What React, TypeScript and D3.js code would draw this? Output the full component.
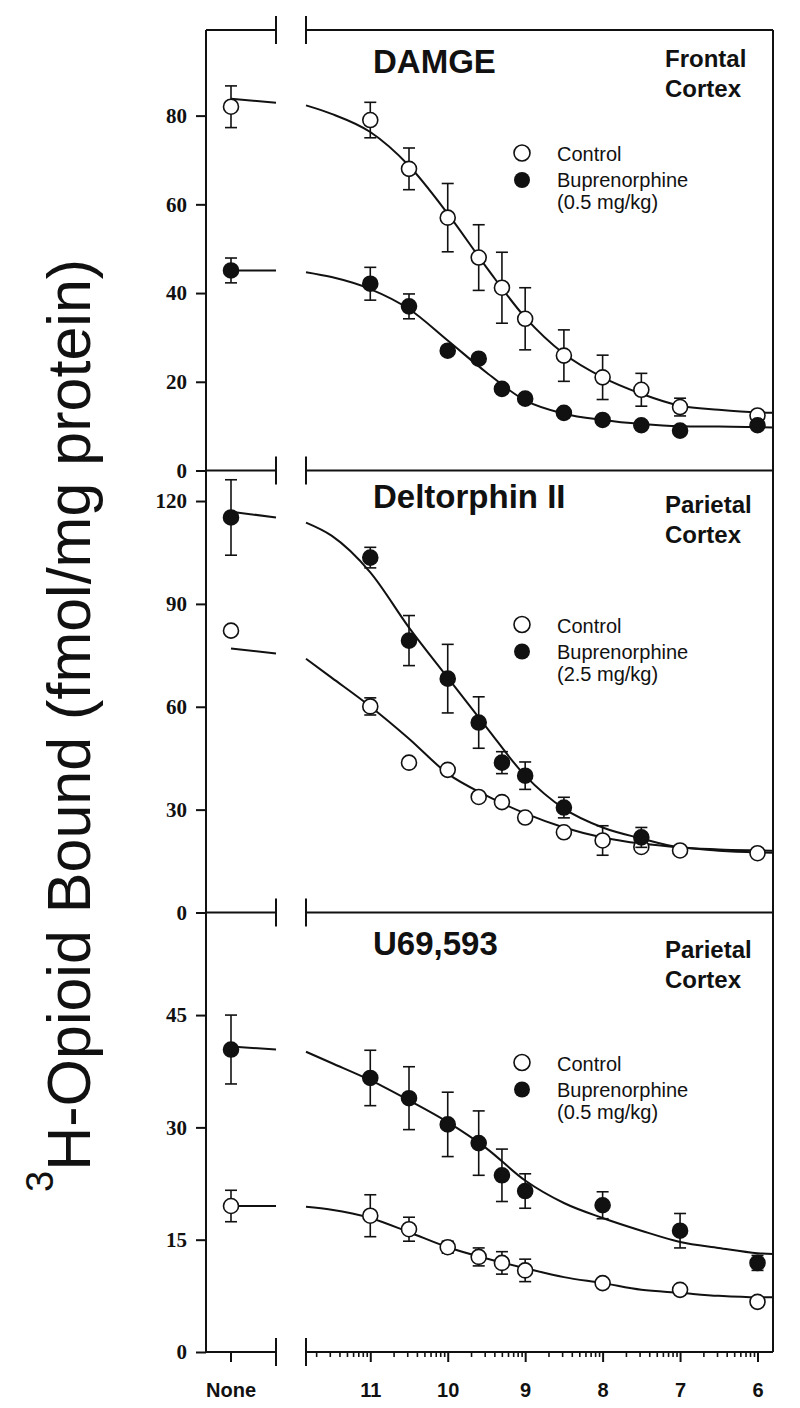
import React, { useEffect, useRef } from 'react';
import * as d3 from 'd3';

// concentrations as -log[M]
const xFull = [11, 10.5, 10, 9.6, 9.3, 9, 8.5, 8, 7.5, 7, 6];
const xDeltBup = [11, 10.5, 10, 9.6, 9.3, 9, 8.5, 7.5];
const xU69 = [11, 10.5, 10, 9.6, 9.3, 9, 8, 7, 6];
const xFit = [11.83, 11.5, 11, 10.5, 10, 9.5, 9, 8.5, 8, 7.5, 7, 6.5, 6, 5.8];
const xMajor = [11, 10, 9, 8, 7, 6];

// DAMGE, frontal cortex
const damgeControl = [79, 68, 57, 48, 41.2, 34.2, 25.9, 21, 18.2, 14.3, 12.4];
const damgeControlErr = [4, 4.7, 7.7, 7.4, 8, 7, 5.8, 5, 3.7, 2, 1];
const damgeBup = [42.1, 37, 27, 25.2, 18.4, 16.2, 13, 11.4, 10.2, 9, 10.2];
const damgeBupErr = [3.7, 2.8, 0, 0, 0, 0, 0, 0, 0, 0, 0];
const damgeControlFit = [82.3, 80.4, 76.3, 68.7, 57.9, 45.8, 34.5, 26.3, 21.0, 17.3, 14.6, 13.7, 13.1, 13.0];
const damgeBupFit = [44.7, 43.6, 40.9, 36.4, 29.3, 22.1, 15.8, 12.8, 11.4, 10.5, 10.0, 9.9, 9.8, 9.7];

// Deltorphin II, parietal cortex
const deltControl = [60.1, 43.7, 41.6, 33.7, 32.2, 27.7, 23.4, 21, 19.1, 18.1, 17.3];
const deltControlErr = [2.5, 0, 0, 0, 0, 0, 0, 4.3, 0, 0, 0];
const deltBup = [103.5, 79.3, 68.2, 55.4, 43.7, 39.9, 30.6, 21.9];
const deltBupErr = [3, 7.3, 10, 7.5, 3.2, 4, 3, 2.9];
const deltControlFit = [74, 68.5, 60.1, 50.7, 40.5, 34.1, 28.9, 24.8, 21.9, 20.1, 19, 18, 17.5, 17.4];
const deltBupFit = [113.7, 109.9, 99.2, 83.1, 68.5, 54, 39.9, 30.3, 24.8, 21.6, 19, 18.4, 18.1, 18];

// U69,593, parietal cortex
const u69Control = [18.2, 16.4, 14, 12.7, 11.9, 10.9, 9.2, 8.3, 6.7];
const u69ControlErr = [2.8, 1.6, 0.8, 1.2, 1.5, 1.5, 0, 0, 0];
const u69Bup = [36.6, 33.9, 30.4, 27.9, 23.6, 21.5, 19.6, 16.2, 11.9];
const u69BupErr = [3.7, 4.2, 4.3, 4.3, 3.5, 2.3, 1.8, 2.3, 1];
const u69ControlFit = [19.4, 19, 17.9, 16, 14, 12.5, 11.2, 10, 9.2, 8.3, 7.9, 7.5, 7.3, 7.3];
const u69BupFit = [40.1, 38.6, 36.3, 33.6, 30.7, 27.2, 22.9, 19.9, 17.9, 16.2, 14.7, 13.9, 13.2, 13.1];

// "None" (no competitor) values per panel
const noneControl = [82, 82.2, 19.5];
const noneControlErr = [4.7, 0, 2.1];
const noneBup = [45.1, 115.2, 40.4];
const noneBupErr = [2.8, 11, 4.6];
const noneControlLine = [[83.8, 82.9], [77, 75.5], [19.5, 19.5]];
const noneBupLine = [[45.1, 45.1], [116.9, 115.2], [40.8, 40.4]];

const titles = ['DAMGE', 'Deltorphin II', 'U69,593'];
const regions = [['Frontal', 'Cortex'], ['Parietal', 'Cortex'], ['Parietal', 'Cortex']];
const doses = ['(0.5 mg/kg)', '(2.5 mg/kg)', '(0.5 mg/kg)'];
const yTicks = [[0, 20, 40, 60, 80], [0, 30, 60, 90, 120], [0, 15, 30, 45]];
const yMax = [99.3, 128.9, 58.7];

// layout
const W = 800, H = 1408;
const axisX = 206, breakL = 276, breakR = 306, frameR = 773;
const bounds = [30, 470.5, 912.5, 1352];
const titleDy = [43, 37, 42];
const regionDy = [37, 42, 45];
const legendDy = [123, 154, 150];
const INK = '#111';
const SANS = '"Liberation Sans", Arial, sans-serif';
const SERIF = '"Liberation Serif", "Times New Roman", serif';

const App = () => {
  const svgRef = useRef<SVGSVGElement>(null);

  useEffect(() => {
    const svg = d3.select(svgRef.current);
    svg.selectAll('*').remove();

    const x = d3.scaleLinear().domain([11.83, 5.8]).range([breakR, frameR]);
    const xNone = d3.scaleLinear().domain([0, 2.8]).range([axisX, breakL]);

    const panels = [
      { x: xFull, c: damgeControl, ce: damgeControlErr, bx: xFull, b: damgeBup, be: damgeBupErr, cf: damgeControlFit, bf: damgeBupFit },
      { x: xFull, c: deltControl, ce: deltControlErr, bx: xDeltBup, b: deltBup, be: deltBupErr, cf: deltControlFit, bf: deltBupFit },
      { x: xU69, c: u69Control, ce: u69ControlErr, bx: xU69, b: u69Bup, be: u69BupErr, cf: u69ControlFit, bf: u69BupFit },
    ];

    // frame, axis line and the axis breaks
    const frame = svg.append('g').attr('stroke', INK).attr('stroke-width', 2).attr('fill', 'none');
    frame.append('line').attr('x1', axisX).attr('x2', axisX).attr('y1', bounds[0]).attr('y2', bounds[3]);
    frame.append('line').attr('x1', frameR).attr('x2', frameR).attr('y1', bounds[0]).attr('y2', bounds[3]);
    bounds.forEach(by => {
      frame.append('line').attr('x1', axisX).attr('x2', breakL).attr('y1', by).attr('y2', by);
      frame.append('line').attr('x1', breakR).attr('x2', frameR).attr('y1', by).attr('y2', by);
      frame.append('line').attr('x1', breakL).attr('x2', breakL).attr('y1', by - 14).attr('y2', by + 14);
      frame.append('line').attr('x1', breakR).attr('x2', breakR).attr('y1', by - 14).attr('y2', by + 14);
    });

    panels.forEach((p, i) => {
      const top = bounds[i], bottom = bounds[i + 1];
      const y = d3.scaleLinear().domain([0, yMax[i]]).range([bottom, top]);
      const g = svg.append('g');

      const ax = g.append('g').attr('transform', `translate(${axisX},0)`)
        .call(d3.axisLeft(y).tickValues(yTicks[i]).tickSize(10).tickSizeOuter(0).tickPadding(9));
      ax.select('.domain').remove();
      ax.selectAll('line').attr('stroke', INK).attr('stroke-width', 2);
      ax.selectAll('text').attr('font-family', SERIF).attr('font-weight', 'bold')
        .attr('font-size', 21).attr('fill', INK);

      // fitted curves
      const line = d3.line<number>().x((_, k) => x(xFit[k])).y(d => y(d)).curve(d3.curveMonotoneX);
      [p.cf, p.bf].forEach(f => {
        g.append('path').attr('d', line(f)).attr('fill', 'none').attr('stroke', INK).attr('stroke-width', 2);
      });
      [noneControlLine[i], noneBupLine[i]].forEach(s => {
        g.append('line').attr('x1', xNone(1)).attr('x2', xNone(2.8))
          .attr('y1', y(s[0])).attr('y2', y(s[1])).attr('stroke', INK).attr('stroke-width', 2);
      });

      const drawSeries = (xs: number[], vs: number[], es: number[], filled: boolean, nv: number, ne: number) => {
        const pts = xs.map((xv, k) => ({ px: x(xv), v: vs[k], e: es[k] }));
        pts.push({ px: xNone(1), v: nv, e: ne });
        const eb = g.append('g').attr('stroke', INK).attr('stroke-width', 1.6);
        pts.filter(d => d.e > 0).forEach(d => {
          eb.append('line').attr('x1', d.px).attr('x2', d.px).attr('y1', y(d.v - d.e)).attr('y2', y(d.v + d.e));
          [d.v - d.e, d.v + d.e].forEach(v => {
            eb.append('line').attr('x1', d.px - 6).attr('x2', d.px + 6).attr('y1', y(v)).attr('y2', y(v));
          });
        });
        g.append('g').selectAll('circle').data(pts).enter().append('circle')
          .attr('cx', d => d.px).attr('cy', d => y(d.v)).attr('r', 7.5)
          .attr('fill', filled ? INK : '#fff').attr('stroke', INK).attr('stroke-width', 1.6);
      };
      drawSeries(p.x, p.c, p.ce, false, noneControl[i], noneControlErr[i]);
      drawSeries(p.bx, p.b, p.be, true, noneBup[i], noneBupErr[i]);

      // labels
      g.append('text').attr('x', 373).attr('y', top + titleDy[i]).attr('font-family', SANS)
        .attr('font-weight', 'bold').attr('font-size', 33).attr('fill', INK).text(titles[i]);
      regions[i].forEach((t, k) => {
        g.append('text').attr('x', 665).attr('y', top + regionDy[i] + k * 30).attr('font-family', SANS)
          .attr('font-weight', 'bold').attr('font-size', 24).attr('fill', INK).text(t);
      });

      // legend
      const ly = top + legendDy[i];
      const lg = g.append('g').attr('font-family', SANS).attr('font-size', 20).attr('fill', INK);
      lg.append('circle').attr('cx', 522).attr('cy', ly).attr('r', 8).attr('fill', '#fff').attr('stroke', INK).attr('stroke-width', 1.6);
      lg.append('circle').attr('cx', 522).attr('cy', ly + 27).attr('r', 8).attr('fill', INK);
      lg.append('text').attr('x', 557).attr('y', ly + 8).text('Control');
      lg.append('text').attr('x', 557).attr('y', ly + 34).text('Buprenorphine');
      lg.append('text').attr('x', 557).attr('y', ly + 56).text(doses[i]);
    });

    // x axis with log minor ticks
    const minor: number[] = [];
    [12, 11, 10, 9, 8, 7].forEach(n => {
      d3.range(2, 10).forEach(k => {
        const v = n - Math.log10(k);
        if (v <= 11.83 && v >= 5.8) minor.push(v);
      });
    });
    const xb = svg.append('g').attr('transform', `translate(0,${bounds[3]})`);
    const minorAx = xb.append('g').call(d3.axisBottom(x).tickValues(minor).tickSize(5).tickSizeOuter(0).tickFormat(() => ''));
    const majorAx = xb.append('g').call(d3.axisBottom(x).tickValues(xMajor).tickSize(10).tickSizeOuter(0).tickFormat(d => String(d)));
    [minorAx, majorAx].forEach(a => {
      a.select('.domain').remove();
      a.selectAll('line').attr('stroke', INK).attr('stroke-width', 1.6);
    });
    majorAx.selectAll('line').attr('stroke-width', 2);
    majorAx.selectAll('text').attr('y', 45).attr('dy', 0).attr('font-family', SANS)
      .attr('font-weight', 'bold').attr('font-size', 20).attr('fill', INK);
    xb.append('line').attr('x1', xNone(1)).attr('x2', xNone(1)).attr('y1', 0).attr('y2', 10)
      .attr('stroke', INK).attr('stroke-width', 2);
    xb.append('text').attr('x', xNone(1)).attr('y', 45).attr('text-anchor', 'middle').attr('font-family', SANS)
      .attr('font-weight', 'bold').attr('font-size', 20).attr('fill', INK).text('None');

    // y label
    const yl = svg.append('text').attr('transform', 'translate(90,1192) rotate(-90)')
      .attr('font-family', SANS).attr('fill', INK);
    yl.append('tspan').attr('font-size', 38).attr('y', -37).text('3');
    yl.append('tspan').attr('font-size', 61).attr('y', 0).text('H-Opioid Bound (fmol/mg protein)');
  }, []);

  return (
    <svg ref={svgRef} width={W} height={H} style={{ position: 'absolute', left: 0, top: 0, background: '#fff' }} />
  );
};

export default App;
